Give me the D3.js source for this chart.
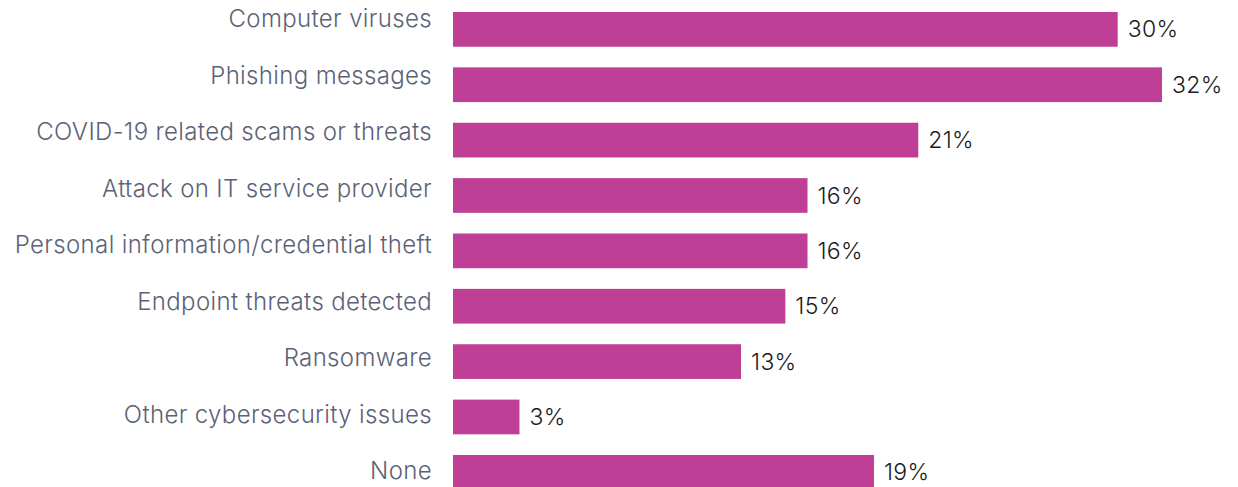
<!DOCTYPE html>
<html>
<head>
<meta charset="utf-8">
<script src="https://cdn.jsdelivr.net/npm/d3@7"></script>
<style>
  html, body { margin: 0; padding: 0; background: #fff; }
  svg { display: block; }
  .cat { font-family: Inter, "Open Sans", sans-serif; font-weight: 300; fill: #5b6276; letter-spacing: 0.35px; }
  .val { font-family: Inter, "Open Sans", sans-serif; font-weight: 300; fill: #1c1c1c; letter-spacing: 0.3px; }
</style>
</head>
<body>
<svg id="chart" width="1238" height="487"></svg>
<script>
// Share of respondents reporting each kind of security incident
const categories = [
  "Computer viruses",
  "Phishing messages",
  "COVID-19 related scams or threats",
  "Attack on IT service provider",
  "Personal information/credential theft",
  "Endpoint threats detected",
  "Ransomware",
  "Other cybersecurity issues",
  "None"
];
const values = [30, 32, 21, 16, 16, 15, 13, 3, 19];
const valueLabels = ["30%", "32%", "21%", "16%", "16%", "15%", "13%", "3%", "19%"];

const data = categories.map((c, i) => ({ cat: c, value: values[i], label: valueLabels[i] }));

const svg = d3.select("#chart");
const barColor = "#be3f95";

const x = d3.scaleLinear().domain([0, 32]).range([453, 1162]);

const y = d3.scaleBand()
  .domain(categories)
  .range([12, 489.7])
  .paddingInner(0.373)
  .paddingOuter(0);

// category text sits on its own slightly wider rhythm
const yText = d3.scalePoint()
  .domain(categories)
  .range([19, 471]);

svg.append("g")
  .selectAll("rect")
  .data(data)
  .join("rect")
  .attr("x", x(0))
  .attr("y", d => y(d.cat))
  .attr("width", d => x(d.value) - x(0))
  .attr("height", y.bandwidth())
  .attr("fill", barColor);

svg.append("g")
  .selectAll("text")
  .data(data)
  .join("text")
  .attr("class", "cat")
  .attr("x", 432)
  .attr("y", d => yText(d.cat))
  .attr("dy", "0.35em")
  .attr("text-anchor", "end")
  .attr("font-size", 24)
  .text(d => d.cat);

svg.append("g")
  .selectAll("text")
  .data(data)
  .join("text")
  .attr("class", "val")
  .attr("x", d => x(d.value) + 10)
  .attr("y", d => y(d.cat) + y.bandwidth() / 2)
  .attr("dy", "0.35em")
  .attr("font-size", 23)
  .text(d => d.label);
</script>
</body>
</html>
